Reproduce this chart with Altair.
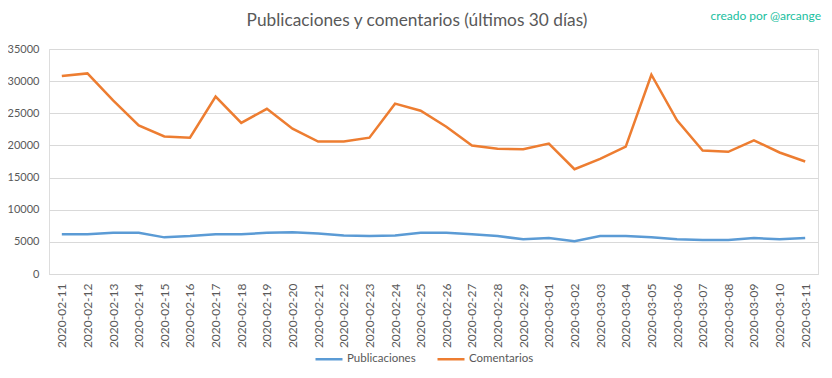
import altair as alt
import pandas as pd

dates = ["2020-02-11","2020-02-12","2020-02-13","2020-02-14","2020-02-15","2020-02-16",
         "2020-02-17","2020-02-18","2020-02-19","2020-02-20","2020-02-21","2020-02-22",
         "2020-02-23","2020-02-24","2020-02-25","2020-02-26","2020-02-27","2020-02-28",
         "2020-02-29","2020-03-01","2020-03-02","2020-03-03","2020-03-04","2020-03-05",
         "2020-03-06","2020-03-07","2020-03-08","2020-03-09","2020-03-10","2020-03-11"]

publicaciones = [6200, 6200, 6400, 6400, 5700, 5900, 6200, 6200, 6400, 6500,
                 6300, 6000, 5900, 6000, 6400, 6400, 6200, 5900, 5400, 5600,
                 5100, 5900, 5900, 5700, 5400, 5300, 5300, 5600, 5400, 5600]

comentarios = [30800, 31200, 27000, 23100, 21400, 21200, 27600, 23500, 25700, 22600,
               20600, 20600, 21200, 26500, 25400, 22900, 20000, 19500, 19400, 20300,
               16300, 17900, 19800, 31000, 23900, 19200, 19000, 20800, 18900, 17500]

series = ["Publicaciones", "Comentarios"]
colors = ["#5B9BD5", "#ED7D31"]
y_ticks = [0, 5000, 10000, 15000, 20000, 25000, 30000, 35000]
title_text = "Publicaciones y comentarios (últimos 30 días)"
credit_text = "creado por @arcange"

rows = []
for d, p, c in zip(dates, publicaciones, comentarios):
    rows.append({"fecha": d, "serie": "Publicaciones", "valor": p})
    rows.append({"fecha": d, "serie": "Comentarios", "valor": c})
df = pd.DataFrame(rows)

FONT = "Lato"
GREY = "#595959"

lines = alt.Chart(df).mark_line(strokeWidth=2.5).encode(
    x=alt.X("fecha:O", title=None, sort=dates,
            scale=alt.Scale(type="point", padding=0.5),
            axis=alt.Axis(labelAngle=-90, ticks=False, grid=False, domain=True,
                          domainColor="#d9d9d9", labelPadding=9, labelFontSize=12,
                          labelColor=GREY, labelFont=FONT)),
    y=alt.Y("valor:Q", title=None,
            scale=alt.Scale(domain=[0, 35000], nice=False),
            axis=alt.Axis(values=y_ticks, format="d", ticks=False, domain=False,
                          gridColor="#d9d9d9", labelPadding=10, labelFontSize=11,
                          labelColor=GREY, labelFont=FONT)),
    color=alt.Color("serie:N", sort=series,
                    scale=alt.Scale(domain=series, range=colors),
                    legend=alt.Legend(title=None, orient="none", direction="horizontal",
                                      legendX=265, legendY=295,
                                      symbolType="stroke", symbolSize=729,
                                      symbolStrokeWidth=2.5, labelFontSize=11.5,
                                      labelColor=GREY, labelFont=FONT,
                                      columnPadding=16, labelOffset=3)),
)

title = alt.Chart(pd.DataFrame({"t": [title_text]})).mark_text(
    align="center", baseline="middle", fontSize=17.3, font=FONT, color=GREY
).encode(x=alt.value(368), y=alt.value(-28), text="t:N")

credit = alt.Chart(pd.DataFrame({"t": [credit_text]})).mark_text(
    align="right", baseline="middle", fontSize=12, font=FONT, color="#20c0a0"
).encode(x=alt.value(772), y=alt.value(-33), text="t:N")

chart = alt.layer(lines, title, credit).properties(
    width=769, height=225,
    padding={"left": 41, "top": 41, "right": 6, "bottom": 96},
    autosize=alt.AutoSizeParams(type="none"),
).configure_view(stroke=None).configure(background="white")

chart.save("out.html", embed_options={"renderer": "svg", "actions": False})
